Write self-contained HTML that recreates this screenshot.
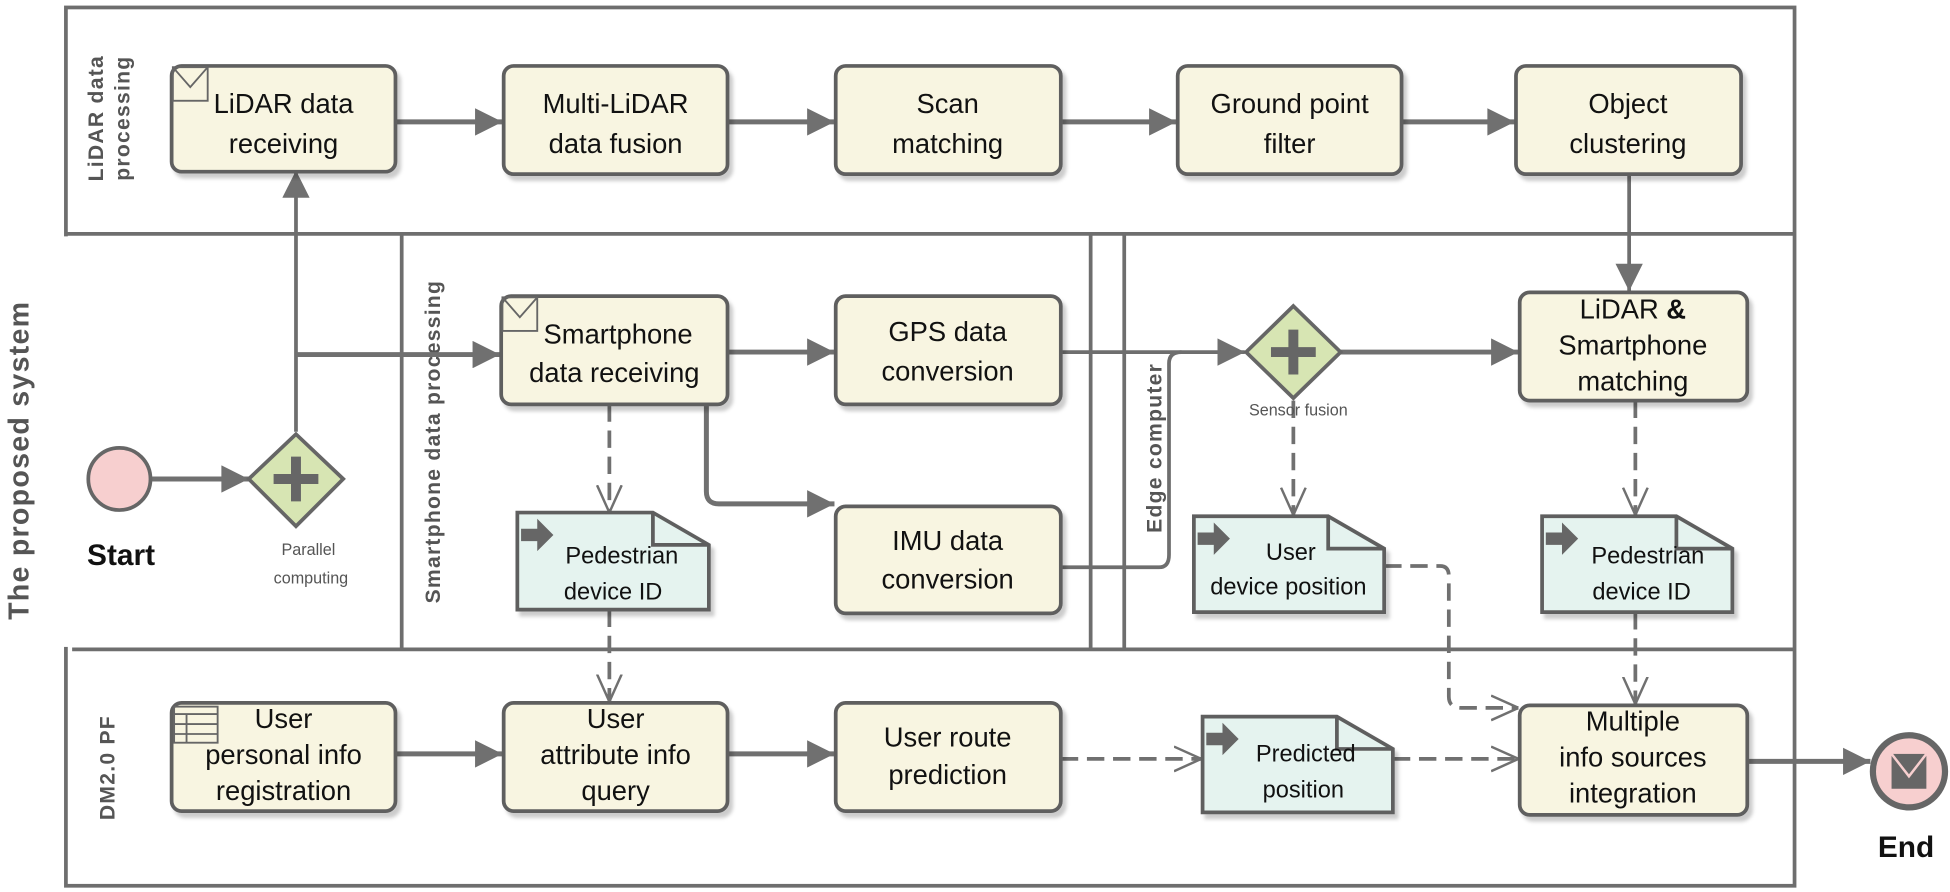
<!DOCTYPE html>
<html><head><meta charset="utf-8"><style>
html,body{margin:0;padding:0;background:#fff}
svg{display:block}
text{font-family:"Liberation Sans",sans-serif}
</style></head><body>
<svg width="1950" height="892" viewBox="0 0 1568 717" preserveAspectRatio="none" xmlns="http://www.w3.org/2000/svg">
<defs>
<marker id="a" viewBox="0 0 10 10" refX="10" refY="5" markerWidth="25" markerHeight="22" markerUnits="userSpaceOnUse" orient="auto"><path d="M0,0 L10,5 L0,10 z" fill="#707070"/></marker>
<marker id="o" viewBox="0 0 10 10" refX="10" refY="5" markerWidth="22" markerHeight="22" markerUnits="userSpaceOnUse" orient="auto"><path d="M0,0.5 L10,5 L0,9.5" fill="none" stroke="#707070" stroke-width="0.9"/></marker>
<filter id="sh" x="-5%" y="-5%" width="115%" height="120%"><feDropShadow dx="3" dy="4" stdDeviation="1.5" flood-color="#000" flood-opacity="0.2"/></filter>
</defs>
<style>
.ln{stroke:#6e6e6e;stroke-width:3;fill:none}
.fl{stroke:#707070;stroke-width:4;fill:none}
.ds{stroke:#707070;stroke-width:3;fill:none;stroke-dasharray:14 7}
.tk{fill:#f8f5e1;stroke:#5e5e5e;stroke-width:3;filter:url(#sh)}
.dt{fill:#e5f3ef;stroke:#5e5e5e;stroke-width:3;filter:url(#sh)}
.t{font-size:22px;fill:#111;text-anchor:middle}
.lb{font-size:17px;font-weight:bold;fill:#555;letter-spacing:1px}
</style>
<!-- pool -->
<rect x="53" y="6" width="1390" height="706" class="ln"/>
<line x1="53" y1="188" x2="1443" y2="188" class="ln"/>
<line x1="58" y1="522" x2="1443" y2="522" class="ln"/>
<line x1="323" y1="188" x2="323" y2="522" class="ln"/>
<line x1="877" y1="188" x2="877" y2="522" class="ln"/>
<line x1="904" y1="188" x2="904" y2="522" class="ln"/>
<rect x="1" y="190" width="56" height="330" fill="#fff"/>
<text transform="translate(23,370) rotate(-90)" text-anchor="middle" style="font-size:23px;font-weight:bold;fill:#555;letter-spacing:1px">The proposed system</text>
<text transform="translate(83,95) rotate(-90)" text-anchor="middle" class="lb">LiDAR data</text>
<text transform="translate(104,95) rotate(-90)" text-anchor="middle" class="lb">processing</text>
<text transform="translate(354,355) rotate(-90)" text-anchor="middle" class="lb">Smartphone data processing</text>
<text transform="translate(934,360) rotate(-90)" text-anchor="middle" class="lb">Edge computer</text>
<text transform="translate(92,617) rotate(-90)" text-anchor="middle" class="lb">DM2.0 PF</text>

<!-- connectors solid -->
<line x1="121" y1="385" x2="200" y2="385" class="fl" marker-end="url(#a)"/>
<line x1="238" y1="347" x2="238" y2="137" class="ln" marker-end="url(#a)"/>
<line x1="238" y1="285" x2="402" y2="285" class="fl" marker-end="url(#a)"/>
<line x1="318" y1="98" x2="404" y2="98" class="fl" marker-end="url(#a)"/>
<line x1="585" y1="98" x2="671" y2="98" class="fl" marker-end="url(#a)"/>
<line x1="853" y1="98" x2="946" y2="98" class="fl" marker-end="url(#a)"/>
<line x1="1127" y1="98" x2="1218" y2="98" class="fl" marker-end="url(#a)"/>
<line x1="1310" y1="140" x2="1310" y2="234" class="ln" marker-end="url(#a)"/>
<line x1="585" y1="283" x2="671" y2="283" class="fl" marker-end="url(#a)"/>
<line x1="853" y1="283" x2="1001" y2="283" class="ln" marker-end="url(#a)"/>
<line x1="1078" y1="283" x2="1221" y2="283" class="fl" marker-end="url(#a)"/>
<path d="M568,325 L568,395 Q568,405 578,405 L671,405" class="fl" marker-end="url(#a)"/>
<path d="M853,456 L932,456 Q940,456 940,446 L940,292 Q940,283 950,283" class="ln"/>
<line x1="318" y1="606" x2="404" y2="606" class="fl" marker-end="url(#a)"/>
<line x1="585" y1="606" x2="671" y2="606" class="fl" marker-end="url(#a)"/>
<line x1="1405" y1="612" x2="1504" y2="612" class="fl" marker-end="url(#a)"/>
<!-- dashed -->
<line x1="490" y1="325" x2="490" y2="412" class="ds" marker-end="url(#o)"/>
<line x1="490" y1="490" x2="490" y2="564" class="ds" marker-end="url(#o)"/>
<line x1="1040" y1="322" x2="1040" y2="414" class="ds" marker-end="url(#o)"/>
<line x1="1315" y1="322" x2="1315" y2="414" class="ds" marker-end="url(#o)"/>
<line x1="1315" y1="492" x2="1315" y2="566" class="ds" marker-end="url(#o)"/>
<path d="M1113,455 L1158,455 Q1165,455 1165,463 L1165,560 Q1165,569 1175,569 L1221,569" class="ds" marker-end="url(#o)"/>
<line x1="853" y1="610" x2="966" y2="610" class="ds" marker-end="url(#o)"/>
<line x1="1120" y1="610" x2="1221" y2="610" class="ds" marker-end="url(#o)"/>

<!-- tasks -->
<g>
<rect x="138" y="53" width="180" height="85" rx="8" class="tk"/>
<rect x="405" y="53" width="180" height="87" rx="8" class="tk"/>
<rect x="672" y="53" width="181" height="87" rx="8" class="tk"/>
<rect x="947" y="53" width="180" height="87" rx="8" class="tk"/>
<rect x="1219" y="53" width="181" height="87" rx="8" class="tk"/>
<rect x="403" y="238" width="182" height="87" rx="8" class="tk"/>
<rect x="672" y="238" width="181" height="87" rx="8" class="tk"/>
<rect x="672" y="407" width="181" height="86" rx="8" class="tk"/>
<rect x="1222" y="235" width="183" height="87" rx="8" class="tk"/>
<rect x="138" y="565" width="180" height="87" rx="8" class="tk"/>
<rect x="405" y="565" width="180" height="87" rx="8" class="tk"/>
<rect x="672" y="565" width="181" height="87" rx="8" class="tk"/>
<rect x="1222" y="567" width="183" height="88" rx="8" class="tk"/>
</g>
<!-- message icons -->
<g fill="none" stroke="#666" stroke-width="1.5">
<rect x="139" y="54" width="28" height="27"/><path d="M139,54 L153,70 L167,54"/>
<rect x="404" y="239" width="28" height="27"/><path d="M404,239 L418,255 L432,239"/>
<rect x="140" y="568" width="35" height="29"/><path d="M140,574 H175 M140,582 H175 M140,590 H175 M150,574 V597"/>
</g>
<!-- data objects -->
<g>
<path d="M416,412 L525,412 L570,438 L570,490 L416,490 Z" class="dt"/><path d="M525,412 L525,438 L570,438" fill="none" stroke="#5e5e5e" stroke-width="3"/>
<path d="M960,415 L1068,415 L1113,441 L1113,492 L960,492 Z" class="dt"/><path d="M1068,415 L1068,441 L1113,441" fill="none" stroke="#5e5e5e" stroke-width="3"/>
<path d="M1240,415 L1348,415 L1393,441 L1393,492 L1240,492 Z" class="dt"/><path d="M1348,415 L1348,441 L1393,441" fill="none" stroke="#5e5e5e" stroke-width="3"/>
<path d="M967,576 L1075,576 L1120,602 L1120,653 L967,653 Z" class="dt"/><path d="M1075,576 L1075,602 L1120,602" fill="none" stroke="#5e5e5e" stroke-width="3"/>
</g>
<g fill="#666">
<path d="M419,425 H432 V417 L445,430 L432,443 V435 H419 Z"/>
<path d="M963,428 H976 V420 L989,433 L976,446 V438 H963 Z"/>
<path d="M1243,428 H1256 V420 L1269,433 L1256,446 V438 H1243 Z"/>
<path d="M970,589 H983 V581 L996,594 L983,607 V599 H970 Z"/>
</g>
<!-- events -->
<circle cx="96" cy="385" r="25" fill="#f7cfcf" stroke="#666" stroke-width="3"/>
<circle cx="1535" cy="620" r="29" fill="#f7cfcf" stroke="#666" stroke-width="5"/>
<rect x="1521" y="606" width="28" height="28" fill="#666"/><path d="M1521,606 L1535,624 L1549,606" fill="none" stroke="#f7cfcf" stroke-width="2"/>
<!-- gateways -->
<path d="M238,349 L276,385 L238,423 L200,385 Z" fill="#d7e5b3" stroke="#666" stroke-width="3"/>
<path d="M238,367 V403 M220,385 H256" stroke="#666" stroke-width="8"/>
<path d="M1040,246 L1078,283 L1040,320 L1002,283 Z" fill="#d7e5b3" stroke="#666" stroke-width="3"/>
<path d="M1040,265 V301 M1022,283 H1058" stroke="#666" stroke-width="8"/>

<!-- texts -->
<g class="t">
<text x="228" y="91">LiDAR data</text><text x="228" y="123">receiving</text>
<text x="495" y="91">Multi-LiDAR</text><text x="495" y="123">data fusion</text>
<text x="762" y="91">Scan</text><text x="762" y="123">matching</text>
<text x="1037" y="91">Ground point</text><text x="1037" y="123">filter</text>
<text x="1309" y="91">Object</text><text x="1309" y="123">clustering</text>
<text x="497" y="276">Smartphone</text><text x="494" y="307">data receiving</text>
<text x="762" y="274">GPS data</text><text x="762" y="306">conversion</text>
<text x="762" y="442">IMU data</text><text x="762" y="473">conversion</text>
<text x="1313" y="256">LiDAR <tspan font-weight="bold">&amp;</tspan></text><text x="1313" y="285">Smartphone</text><text x="1313" y="314">matching</text>
<text x="228" y="585">User</text><text x="228" y="614">personal info</text><text x="228" y="643">registration</text>
<text x="495" y="585">User</text><text x="495" y="614">attribute info</text><text x="495" y="643">query</text>
<text x="762" y="600">User route</text><text x="762" y="630">prediction</text>
<text x="1313" y="587">Multiple</text><text x="1313" y="616">info sources</text><text x="1313" y="645">integration</text>
</g>
<g class="t" style="font-size:19px">
<text x="500" y="453">Pedestrian</text><text x="493" y="482">device ID</text>
<text x="1038" y="450">User</text><text x="1036" y="478">device position</text>
<text x="1325" y="453">Pedestrian</text><text x="1320" y="482">device ID</text>
<text x="1050" y="612">Predicted</text><text x="1048" y="641">position</text>
</g>
<text x="70" y="454" style="font-size:24px;font-weight:bold;fill:#111">Start</text>
<text x="1510" y="689" style="font-size:24px;font-weight:bold;fill:#111">End</text>
<text x="248" y="446" text-anchor="middle" style="font-size:13px;fill:#555">Parallel</text>
<text x="250" y="469" text-anchor="middle" style="font-size:13px;fill:#555">computing</text>
<text x="1044" y="334" text-anchor="middle" style="font-size:13px;fill:#555">Sensor fusion</text>
</svg>
</body></html>
